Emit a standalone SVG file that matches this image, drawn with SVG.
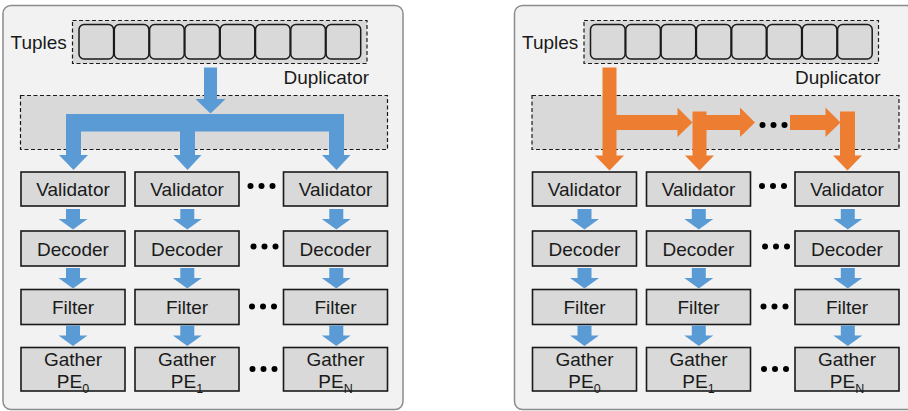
<svg xmlns="http://www.w3.org/2000/svg" width="908" height="411" viewBox="0 0 908 411">
  <style>
    .panel { fill: #f2f2f2; stroke: #8c8c8c; stroke-width: 1.5; }
    .dash { fill: #d9d9d9; stroke: #1a1a1a; stroke-width: 1.2; stroke-dasharray: 4 2.5; }
    .cell { fill: #d9d9d9; stroke: #1a1a1a; stroke-width: 1.5; }
    .box { fill: #d9d9d9; stroke: #1a1a1a; stroke-width: 1.6; }
    .lbl { font-family: "Liberation Sans", Arial, sans-serif; font-size: 19px; fill: #1a1a1a; text-anchor: middle; }
    .cap { font-family: "Liberation Sans", Arial, sans-serif; font-size: 19px; fill: #1a1a1a; }
    .sub { font-size: 12.5px; }
    .blue { fill: #5b9bd5; }
    .orange { fill: #ed7d31; }
    .dot { fill: #000; }
  </style>
  <defs>
    <!-- small downward block arrow between pipeline stages, centred at x=0 -->
    <polygon id="step" points="-7,0 7,0 7,10 14.5,10 0,20.5 -14.5,10 -7,10"/>
    <!-- tuple buffer with eight slots -->
    <g id="tuples">
      <rect class="dash" x="72.5" y="20.5" width="294.5" height="43"/>
      <rect class="cell" x="79" y="24.5" width="34.6" height="34.5" rx="5"/>
      <rect class="cell" x="114.3" y="24.5" width="34.6" height="34.5" rx="5"/>
      <rect class="cell" x="149.6" y="24.5" width="34.6" height="34.5" rx="5"/>
      <rect class="cell" x="184.9" y="24.5" width="34.6" height="34.5" rx="5"/>
      <rect class="cell" x="220.2" y="24.5" width="34.6" height="34.5" rx="5"/>
      <rect class="cell" x="255.5" y="24.5" width="34.6" height="34.5" rx="5"/>
      <rect class="cell" x="290.8" y="24.5" width="34.6" height="34.5" rx="5"/>
      <rect class="cell" x="326.1" y="24.5" width="34.6" height="34.5" rx="5"/>
      <text class="cap" x="10.5" y="49">Tuples</text>
    </g>
    <!-- three columns of processing stages -->
    <g id="stages">
      <g id="col0">
        <rect class="box" x="21" y="172" width="104" height="34"/>
        <text class="lbl" x="73" y="196">Validator</text>
        <rect class="box" x="21" y="231" width="104" height="35"/>
        <text class="lbl" x="73" y="256">Decoder</text>
        <rect class="box" x="21" y="289.5" width="104" height="35"/>
        <text class="lbl" x="73" y="314">Filter</text>
        <rect class="box" x="21" y="347.5" width="104" height="43.5"/>
        <text class="lbl" x="73" y="365.5">Gather</text>
        <text class="lbl" x="73" y="387.5">PE<tspan class="sub" dy="5">0</tspan></text>
      </g>
      <g id="col1">
        <rect class="box" x="135" y="172" width="104" height="34"/>
        <text class="lbl" x="187" y="196">Validator</text>
        <rect class="box" x="135" y="231" width="104" height="35"/>
        <text class="lbl" x="187" y="256">Decoder</text>
        <rect class="box" x="135" y="289.5" width="104" height="35"/>
        <text class="lbl" x="187" y="314">Filter</text>
        <rect class="box" x="135" y="347.5" width="104" height="43.5"/>
        <text class="lbl" x="187" y="365.5">Gather</text>
        <text class="lbl" x="187" y="387.5">PE<tspan class="sub" dy="5">1</tspan></text>
      </g>
      <g id="colN">
        <rect class="box" x="283.5" y="172" width="104" height="34"/>
        <text class="lbl" x="335.5" y="196">Validator</text>
        <rect class="box" x="283.5" y="231" width="104" height="35"/>
        <text class="lbl" x="335.5" y="256">Decoder</text>
        <rect class="box" x="283.5" y="289.5" width="104" height="35"/>
        <text class="lbl" x="335.5" y="314">Filter</text>
        <rect class="box" x="283.5" y="347.5" width="104" height="43.5"/>
        <text class="lbl" x="335.5" y="365.5">Gather</text>
        <text class="lbl" x="335.5" y="387.5">PE<tspan class="sub" dy="5">N</tspan></text>
      </g>
      <g id="ellipses" class="dot">
        <circle cx="250.5" cy="186" r="3"/><circle cx="261.5" cy="186" r="3"/><circle cx="272.5" cy="186" r="3"/>
        <circle cx="253.5" cy="246.5" r="3"/><circle cx="264.5" cy="246.5" r="3"/><circle cx="275.5" cy="246.5" r="3"/>
        <circle cx="252" cy="306.5" r="3"/><circle cx="263" cy="306.5" r="3"/><circle cx="274" cy="306.5" r="3"/>
        <circle cx="252.5" cy="369" r="3"/><circle cx="263.5" cy="369" r="3"/><circle cx="274.5" cy="369" r="3"/>
      </g>
      <g id="stage-links" class="blue">
        <use href="#step" x="73" y="209"/><use href="#step" x="187.3" y="209"/><use href="#step" x="336.3" y="209"/>
        <use href="#step" x="73" y="268"/><use href="#step" x="187.3" y="268"/><use href="#step" x="336.3" y="268"/>
        <use href="#step" x="73" y="325.5"/><use href="#step" x="187.3" y="325.5"/><use href="#step" x="336.3" y="325.5"/>
      </g>
    </g>
  </defs>

  <!-- left: broadcast duplicator -->
  <g id="broadcast">
    <rect class="panel" x="3" y="5.5" width="400" height="404" rx="8"/>
    <g id="tuples-a"><use href="#tuples"/></g>
    <g id="duplicator-a">
      <rect class="dash" x="20.5" y="95.5" width="367" height="54"/>
      <text class="cap" x="283.5" y="84">Duplicator</text>
    </g>
    <g id="connectors-a" class="blue">
      <polygon points="204,67.5 217,67.5 217,99 225.5,99 210.5,113.5 195.5,99 204,99"/>
      <path d="M66,114 H344 V155 H350.5 L336.5,170 L322,155 H329 V131.5 H195 V155 H201.5 L187.5,170 L173.5,155 H180 V131.5 H81 V155 H88 L73.5,170 L59,155 H66 Z"/>
    </g>
    <g id="pipelines-a"><use href="#stages"/></g>
  </g>

  <!-- right: daisy-chained duplicator -->
  <g id="chain">
    <rect class="panel" x="514.5" y="5.5" width="400" height="404" rx="8"/>
    <g id="tuples-b" transform="translate(511.5,0)"><use href="#tuples"/></g>
    <g id="duplicator-b" transform="translate(511.5,0)">
      <rect class="dash" x="20.5" y="95.5" width="367" height="54"/>
      <text class="cap" x="283.5" y="84">Duplicator</text>
    </g>
    <g id="connectors-b" class="orange">
      <path d="M602.5,67.5 H616.5 V115 H677.5 V107.5 L692.5,122.5 L677.5,137 V130 H616.5 V155.5 H624 L609.5,170.5 L595,155.5 H602.5 Z"/>
      <path d="M692.5,111.5 H706.5 V115 H740 V107.5 L755,122.5 L740,137 V130 H706.5 V155.5 H714 L699.5,170.5 L685,155.5 H692.5 Z"/>
      <path d="M790,115 H825.5 V107.5 L840.5,122.5 L825.5,137 V130 H790 Z"/>
      <path d="M840,111.5 H855 V155.5 H862 L847.5,170.5 L833,155.5 H840 Z"/>
      <g class="dot">
        <circle cx="762.5" cy="125" r="3"/><circle cx="773.5" cy="125" r="3"/><circle cx="784.5" cy="125" r="3"/>
      </g>
    </g>
    <g id="pipelines-b" transform="translate(511.5,0)"><use href="#stages"/></g>
  </g>
</svg>
